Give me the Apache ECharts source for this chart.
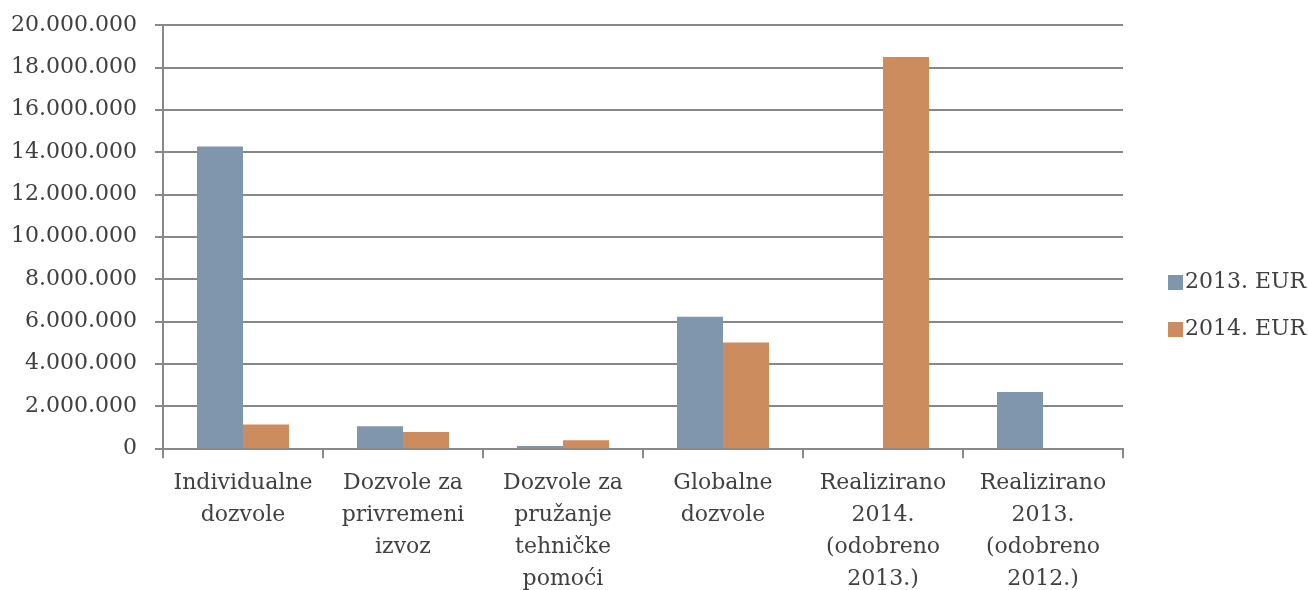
<!DOCTYPE html>
<html><head><meta charset="utf-8">
<script src="https://cdn.jsdelivr.net/npm/echarts@6/dist/echarts.min.js"></script>
<style>html,body{margin:0;padding:0;background:#fff}#c{width:1308px;height:590px}</style>
</head><body><div id="c"></div>
<script>
const categories = ['Individualne\ndozvole','Dozvole za\nprivremeni\nizvoz','Dozvole za\npružanje\ntehničke\npomoći','Globalne\ndozvole','Realizirano\n2014.\n(odobreno\n2013.)','Realizirano\n2013.\n(odobreno\n2012.)'];
const seriesNames = ['2013. EUR','2014. EUR'];
const values2013 = [14260000, 1040000, 110000, 6220000, 0, 2660000];
const values2014 = [1130000, 770000, 380000, 5000000, 18490000, 0];
const yMin = 0, yMax = 20000000, yStep = 2000000;

const font = 'DejaVu Serif';
const fmt = v => String(v).replace(/\B(?=(\d{3})+(?!\d))/g, '.');
const chart = echarts.init(document.getElementById('c'));
chart.setOption({
  animation:false,
  textStyle:{fontFamily:font},
  grid:{left:163,right:185,top:25,bottom:141.7,containLabel:false,outerBoundsMode:'none'},
  legend:{orient:'vertical',left:1163,top:263,itemWidth:15,itemHeight:15,itemGap:18,icon:'rect',
    textStyle:{fontFamily:font,fontSize:22,color:'#404040',lineHeight:29,padding:[0,0,0,-3]},data:seriesNames},
  xAxis:{type:'category',data:categories,
    axisLine:{lineStyle:{color:'#888',width:2}},
    axisTick:{show:true,length:10,lineStyle:{color:'#888',width:2}},
    axisLabel:{fontFamily:font,fontSize:22,color:'#404040',lineHeight:32,margin:19,interval:0}},
  yAxis:{type:'value',min:yMin,max:yMax,interval:yStep,
    axisLine:{show:true,lineStyle:{color:'#888',width:2}},
    axisTick:{show:true,length:8,lineStyle:{color:'#888',width:2}},
    splitLine:{lineStyle:{color:'#888',width:2}},
    axisLabel:{fontFamily:font,fontSize:22,color:'#404040',margin:26,formatter:fmt}},
  series:[
    {name:seriesNames[0],type:'bar',data:values2013,barGap:'0%',barCategoryGap:'42.5%',itemStyle:{color:'#8096AD'}},
    {name:seriesNames[1],type:'bar',data:values2014,barGap:'0%',barCategoryGap:'42.5%',itemStyle:{color:'#CC8C5E'}}
  ]
});
</script></body></html>
